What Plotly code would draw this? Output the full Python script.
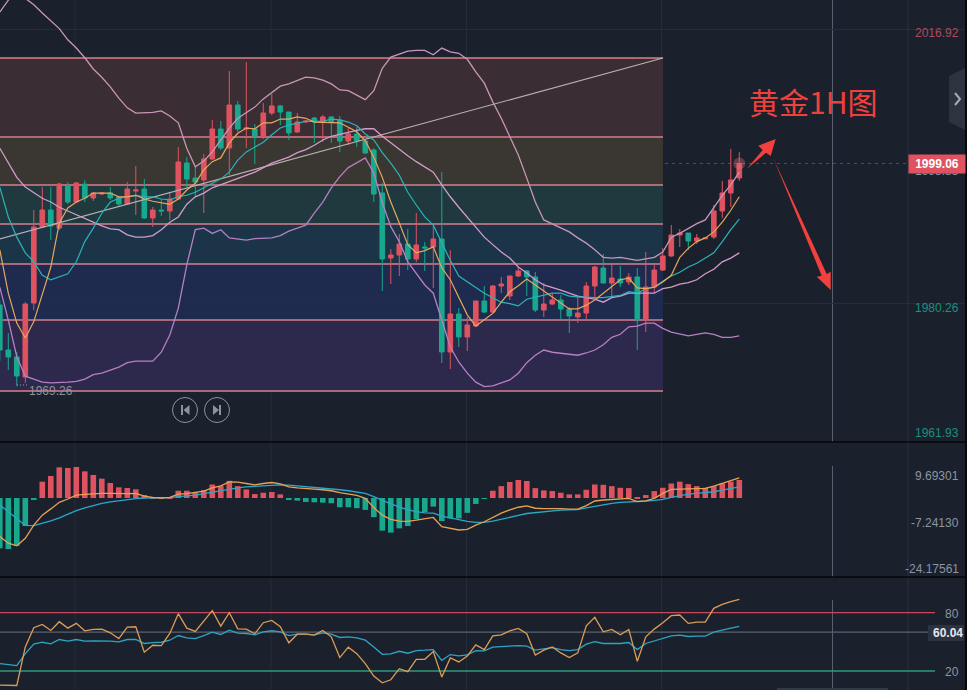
import plotly.graph_objects as go

W, H = 967, 690

# ---- candles: index 0..87, prices ----
opens = [1980.12,1974.10,1973.17,1970.49,1980.39,1990.56,1992.83,1990.42,1996.04,1993.90,
         1996.31,1994.44,1994.97,1995.11,1994.57,1993.63,1995.37,1995.64,1991.76,1992.83,
         1992.70,1994.30,1999.12,1997.11,1996.85,1999.66,2003.67,2001.13,2006.88,2003.67,
         2003.67,2002.60,2005.81,2006.75,2005.94,2003.27,2004.61,2005.14,2004.61,2005.28,
         2004.87,2002.06,2003.00,2002.06,2000.86,1995.11,1986.41,1986.81,1988.28,1986.28,
         1987.88,1987.88,1988.95,1973.83,1978.92,1975.84,1977.31,1980.66,1979.18,1982.66,
         1981.33,1984.00,1984.67,1983.87,1979.45,1980.25,1980.79,1979.59,1978.52,1979.05,
         1982.66,1985.07,1983.06,1983.60,1983.20,1983.87,1978.11,1982.53,1984.80,1986.68,
         1989.49,1989.75,1988.68,1988.98,1989.22,1992.70,1995.11,1997.11]
highs = [1980.79,1976.37,1973.83,1980.52,1992.83,1995.91,1995.91,1996.45,1996.58,1996.58,
         1996.85,1995.24,1995.24,1995.91,1994.71,1996.58,1998.72,1996.98,1993.23,1994.30,
         1995.24,2001.26,1999.92,1998.72,2000.32,2004.87,2004.74,2011.43,2007.42,2012.63,
         2004.34,2007.15,2008.35,2006.88,2005.94,2005.81,2004.87,2005.28,2005.54,2005.41,
         2005.41,2003.80,2003.94,2002.33,2001.13,1996.45,1987.61,1989.62,1990.29,1992.43,
         1988.55,1991.09,1997.92,1987.48,1979.72,1978.52,1980.66,1982.66,1982.80,1983.87,
         1984.00,1985.21,1984.80,1984.54,1983.06,1981.73,1981.46,1979.85,1981.19,1983.20,
         1985.34,1986.95,1985.47,1985.34,1984.40,1985.07,1987.21,1985.47,1987.75,1990.82,
         1990.29,1989.75,1989.62,1989.22,1993.50,1996.71,2000.99,2000.59]
lows = [1972.63,1971.42,1969.26,1969.68,1979.45,1990.42,1988.82,1990.16,1993.63,1993.77,
        1993.90,1994.04,1994.84,1994.17,1993.23,1993.50,1992.16,1991.63,1990.56,1992.03,
        1991.49,1994.17,1995.91,1994.57,1992.43,1999.52,2000.86,1997.52,2003.27,2001.13,
        1998.99,2002.33,2005.54,2004.21,2002.20,2003.14,2004.47,2001.80,2001.93,2001.80,
        2000.59,2001.53,2001.26,2000.32,1993.90,1981.99,1982.93,1984.00,1984.80,1985.87,
        1984.67,1982.40,1972.36,1971.56,1974.50,1973.97,1977.31,1979.05,1979.05,1981.73,
        1980.79,1983.87,1981.33,1979.18,1978.52,1980.12,1978.25,1976.37,1977.71,1978.25,
        1981.06,1983.06,1981.06,1982.53,1982.80,1974.10,1976.51,1981.73,1984.67,1986.54,
        1987.88,1987.48,1988.28,1988.95,1988.95,1991.76,1993.23,1996.71]
closes = [1974.10,1973.17,1970.62,1980.25,1990.56,1992.83,1990.69,1996.31,1993.90,1996.45,
          1994.44,1995.11,1995.11,1994.44,1993.63,1995.64,1995.51,1991.76,1992.83,1992.70,
          1994.30,1999.25,1996.98,1996.58,1999.66,2003.67,2001.13,2006.88,2003.67,2003.80,
          2002.73,2005.81,2006.75,2005.94,2003.14,2004.61,2004.74,2004.61,2005.28,2004.61,
          2002.06,2003.00,2002.06,2000.46,1994.97,1986.28,1986.81,1988.28,1986.28,1988.15,
          1987.75,1988.95,1973.83,1978.92,1975.84,1977.45,1980.66,1979.18,1982.66,1982.93,
          1984.00,1984.67,1983.87,1979.45,1980.25,1980.79,1979.59,1978.65,1979.05,1982.66,
          1985.21,1983.06,1983.73,1983.06,1983.87,1978.11,1982.53,1984.80,1986.68,1989.49,
          1989.75,1988.68,1989.09,1989.09,1992.70,1995.11,1996.85,1999.06]

ma5 = [1987.5,1981.7,1977.7,1975.7,1977.9,1981.4,1985.2,1991.1,1993.1,1993.9,1994.4,1995.1,1995.1,1995.1,1994.6,
       1994.6,1994.8,1994.3,1994.0,1993.8,1993.6,1994.3,1995.5,1996.4,1998.2,1999.3,1999.8,2001.8,2003.1,2003.8,
       2003.7,2004.5,2004.5,2005.0,2005.0,2005.3,2005.1,2004.6,2004.6,2004.6,2004.5,2003.9,2003.3,2002.1,1999.9,
       1997.2,1993.9,1991.1,1988.2,1987.1,1987.4,1987.9,1985.1,1983.5,1981.2,1978.8,1977.3,1978.1,1979.0,1980.5,
       1981.9,1982.7,1983.6,1982.8,1982.0,1981.3,1980.5,1979.6,1979.6,1980.1,1980.8,1981.7,1982.5,1983.5,1983.7,
       1982.4,1982.3,1982.5,1983.2,1984.1,1986.5,1987.7,1988.6,1989.1,1989.9,1991.2,1992.8,1994.6]
ma10 = [1995.9,1991.9,1989.2,1987.1,1985.9,1984.1,1983.5,1983.9,1984.3,1985.9,1988.6,1990.4,1992.4,1993.9,1994.4,
        1994.6,1994.8,1994.6,1994.6,1994.3,1994.2,1994.6,1994.8,1995.2,1995.8,1996.4,1997.0,1997.9,1999.5,2000.6,
        2001.3,2001.9,2002.9,2003.8,2004.2,2004.5,2004.7,2004.7,2004.7,2005.0,2004.9,2004.6,2004.1,2003.0,2002.2,
        2000.5,1999.1,1997.5,1995.2,1993.5,1991.9,1990.8,1988.4,1986.1,1984.0,1983.2,1982.5,1981.7,1981.1,1980.5,
        1980.3,1980.0,1980.9,1981.2,1981.4,1981.7,1981.7,1981.3,1981.2,1981.1,1981.1,1981.1,1981.2,1981.4,1981.9,
        1981.7,1982.3,1982.5,1983.3,1984.0,1984.5,1985.2,1985.7,1986.4,1987.1,1988.6,1990.2,1991.6]
boll_mid = [2001.1,1999.1,1997.2,1995.9,1995.1,1994.4,1993.9,1993.2,1992.7,1992.2,1991.6,1991.2,1990.7,1990.3,1990.2,
            1989.5,1989.2,1989.2,1989.4,1990.2,1991.2,1991.9,1993.6,1994.6,1995.1,1995.8,1996.2,1996.6,1997.1,1997.5,
            1997.9,1998.5,1999.1,1999.5,1999.9,2000.5,2000.9,2001.5,2002.2,2002.7,2003.0,2003.3,2003.5,2003.7,2003.7,
            2002.7,2001.8,2000.9,2000.1,1999.3,1998.6,1997.9,1996.2,1994.6,1993.2,1991.9,1990.6,1989.2,1988.2,1987.2,
            1986.4,1985.2,1984.4,1983.5,1982.8,1982.5,1982.1,1981.7,1981.3,1981.1,1980.9,1980.5,1981.1,1981.3,1981.7,
            1981.7,1981.7,1981.7,1982.3,1982.5,1982.9,1983.1,1983.5,1984.3,1984.9,1985.9,1986.4,1987.1]
boll_up = [2019.3,2020.9,2022.0,2021.2,2020.3,2019.2,2018.2,2017.1,2015.6,2014.5,2013.2,2011.7,2010.6,2009.3,2007.8,
           2006.5,2005.8,2005.8,2005.9,2006.1,2005.4,2004.5,2001.1,1998.6,1999.4,2000.6,2002.2,2003.8,2005.1,2005.9,
           2006.6,2007.7,2008.6,2009.4,2009.7,2010.2,2010.6,2010.5,2010.2,2009.7,2008.9,2008.8,2008.2,2007.6,2008.8,
           2011.8,2013.3,2013.7,2014.1,2014.2,2014.2,2013.6,2014.5,2014.0,2013.8,2013.0,2011.3,2009.8,2007.3,2005.1,
           2002.6,2000.2,1997.1,1993.9,1991.5,1991.0,1990.4,1989.9,1989.1,1988.4,1987.5,1986.5,1986.4,1986.5,1986.3,
           1986.1,1986.3,1986.5,1987.2,1989.2,1989.7,1990.4,1991.0,1991.5,1993.1,1994.8,1996.2,1997.9]
boll_low = [1982.5,1978.1,1973.2,1970.6,1970.2,1969.8,1969.7,1969.7,1969.8,1969.9,1970.2,1970.8,1971.0,1971.4,1971.8,
            1972.4,1972.6,1972.6,1972.6,1973.8,1976.1,1979.7,1985.5,1990.2,1990.4,1989.7,1990.2,1989.1,1989.0,1988.8,
            1989.0,1989.0,1989.1,1989.4,1990.0,1990.4,1990.8,1992.4,1993.9,1995.8,1997.3,1998.5,1999.1,1999.8,1997.8,
            1993.8,1990.6,1988.6,1985.9,1984.4,1982.8,1981.7,1978.1,1974.5,1972.5,1971.0,1969.8,1969.2,1969.3,1969.7,
            1970.1,1971.0,1972.4,1973.4,1974.1,1973.8,1973.7,1973.6,1973.4,1973.7,1974.1,1974.8,1975.8,1976.2,1977.2,
            1977.3,1977.7,1977.7,1977.0,1976.5,1976.2,1976.0,1976.2,1976.4,1976.2,1975.8,1975.8,1976.0]

fib_levels = [2013.17,2002.60,1996.18,1990.96,1985.60,1978.11,1968.61]
trend_x = [0, 78.02]
trend_y = [1988.95, 2013.17]
last_price = 1999.06
low_label = "1969.26"

# ---- MACD ----
macd_hist = [-15.25,-15.45,-14.44,-8.48,-0.4,4.95,6.67,9.29,9.09,9.39,8.08,6.97,5.86,4.55,3.23,3.03,2.63,0.9,0.1,0.1,
             0.3,2.2,2.2,1.7,2.4,4.1,3.6,5.2,3.6,2.6,1.2,1.6,1.8,1.1,-0.4,-0.8,-1.2,-1.3,-1.4,-1.6,
             -2.8,-2.8,-3.1,-3.6,-5.8,-9.9,-10.5,-9.2,-8.5,-6.4,-4.3,-2.6,-7.0,-6.2,-6.2,-4.5,-1.8,-0.1,2.2,3.6,
             4.85,5.45,5.15,3.0,2.3,2.1,1.6,1.1,1.1,2.5,4.1,4.0,3.6,3.1,3.0,0.2,0.9,2.1,3.1,4.4,
             4.95,4.2,3.6,3.1,3.6,4.4,4.95,5.45]
macd_dif = [-11.7,-13.7,-14.5,-12.2,-8.2,-5.2,-3.3,-1.3,-0.3,0.9,1.1,1.3,1.4,1.4,1.3,1.3,1.4,0.6,0.2,0.0,
            0.2,1.2,1.3,1.7,2.1,3.1,3.7,4.9,4.8,4.4,4.0,4.4,4.7,4.3,3.4,3.1,2.8,2.7,2.5,2.2,
            1.6,1.3,0.8,-0.1,-2.9,-5.2,-6.5,-7.0,-7.1,-6.7,-6.4,-5.9,-8.7,-9.2,-9.7,-9.5,-8.2,-7.2,-5.9,-4.6,
            -3.6,-2.8,-2.4,-3.1,-3.2,-3.1,-3.2,-3.4,-3.4,-2.3,-0.9,-0.6,-0.4,-0.2,-0.1,-1.1,-0.9,-0.1,1.4,2.6,
            2.7,2.8,2.8,2.9,3.6,4.4,5.3,6.1]
macd_dea = [-2.1,-4.1,-6.2,-8.3,-8.4,-7.7,-6.9,-6.0,-4.8,-3.8,-3.0,-2.2,-1.6,-1.2,-0.8,-0.5,-0.2,0.0,0.0,0.0,
            0.1,0.4,0.6,0.9,1.3,1.8,2.3,2.8,3.1,3.4,3.6,3.8,3.9,4.0,3.9,3.7,3.5,3.3,3.1,2.8,
            2.5,2.2,1.9,1.4,0.4,-0.8,-1.8,-2.7,-3.6,-4.1,-4.5,-4.6,-5.5,-6.0,-6.6,-7.1,-7.4,-7.4,-7.0,-6.5,
            -5.9,-5.3,-4.7,-4.4,-4.1,-3.9,-3.7,-3.6,-3.5,-3.0,-2.5,-2.0,-1.6,-1.3,-1.2,-1.2,-0.9,-0.7,-0.4,0.2,
            0.7,1.2,1.4,1.6,1.9,2.4,2.9,3.4]

# ---- RSI ----
rsi_fast = [5.5,5.5,5.1,44.8,64.5,67.9,61.7,70.7,64.1,69.0,61.4,62.8,63.1,59.3,53.4,65.2,65.5,39.3,46.5,46.2,
            58.6,79.0,64.1,60.7,71.4,82.1,66.2,80.0,63.4,63.1,58.3,69.7,72.1,65.5,49.0,57.9,57.9,56.9,61.7,55.2,
            33.8,44.5,37.9,27.6,14.8,7.9,11.0,22.4,19.3,32.0,32.0,40.0,13.8,33.4,29.3,35.5,46.9,42.0,56.2,57.2,
            61.4,63.8,58.3,36.5,41.4,44.8,38.6,33.8,38.6,66.5,75.2,60.3,62.8,57.2,62.8,30.0,55.2,63.1,69.7,76.9,
            77.6,69.0,70.3,70.3,84.5,88.6,91.4,93.8]
rsi_slow = [27.6,26.9,25.5,37.9,47.6,49.6,47.9,52.4,50.7,52.4,50.7,51.0,51.0,50.7,50.0,52.4,52.4,48.3,49.3,49.6,
            51.7,56.5,54.1,53.4,56.5,60.0,57.6,62.1,59.0,58.6,57.2,60.3,61.4,60.3,56.5,57.9,57.9,57.2,59.3,57.9,
            54.5,55.2,54.1,51.7,44.8,37.2,37.6,40.3,38.3,41.0,41.4,42.0,31.0,36.9,35.5,36.5,41.0,40.7,44.5,45.2,
            45.8,46.2,45.5,41.4,42.7,44.1,42.0,41.0,42.0,47.6,50.3,48.3,48.3,48.3,49.3,42.0,48.3,50.7,53.4,56.2,
            56.9,55.5,55.9,55.9,60.0,62.4,64.1,65.9]
rsi_levels = [80, 60, 20]
rsi_level_colors = ["#c6485c", "#5a626e", "#2f9a78"]

# ---- text ----
title_text = "黄金1H图"
price_labels = [("2016.92", 33, "#b04a5c"), ("1980.26", 307.5, "#1a9080"), ("1961.93", 433, "#1a9080")]
macd_labels = [("9.69301", 475.5), ("-7.24130", 523), ("-24.17561", 568.5)]
rsi_labels = [("80", 614), ("20", 672)]

idx = list(range(len(closes)))

# ---- palette ----
BG = "#1a212d"
RED = "#df5360"
TEAL = "#18a88e"
LINE = "#d87f8d"
fib_fills = ["#3a2e34", "#3a3631", "#1f393f", "#1b3448", "#1e2b4e", "#2d294d"]


def px(x):
    return x / W


def py(y):
    return 1 - y / H


def path(points, close=True):
    s = "M " + " L ".join(f"{px(a):.5f},{py(b):.5f}" for a, b in points)
    return s + (" Z" if close else "")


fig = go.Figure()

fig.add_trace(go.Candlestick(
    x=idx, open=opens, high=highs, low=lows, close=closes,
    increasing=dict(line=dict(color=RED, width=1), fillcolor=RED),
    decreasing=dict(line=dict(color=TEAL, width=1), fillcolor=TEAL),
    whiskerwidth=0, xaxis="x", yaxis="y", showlegend=False))


def line(y, color, yaxis="y", width=1.2, x=idx):
    fig.add_trace(go.Scatter(x=x, y=y, mode="lines", xaxis="x", yaxis=yaxis,
                             line=dict(color=color, width=width), showlegend=False,
                             hoverinfo="skip", cliponaxis=True))


line(trend_y, "#b8b0b2", x=trend_x)
line(boll_up, "#c996b8", width=1.3)
line(boll_low, "#b77fc4", width=1.3)
line(boll_mid, "#d29ccb", width=1.3)
line(ma10, "#2bb3b8")
line(ma5, "#e7a75e")

fig.add_trace(go.Scatter(x=[idx[-1]], y=[last_price], mode="markers", xaxis="x", yaxis="y",
                         marker=dict(size=12, color="rgba(235,110,120,0.35)"),
                         showlegend=False, hoverinfo="skip"))

fig.add_trace(go.Bar(x=idx, y=macd_hist, xaxis="x", yaxis="y2", width=0.66,
                     marker=dict(color=[RED if v >= 0 else TEAL for v in macd_hist], line=dict(width=0)),
                     showlegend=False))
line(macd_dea, "#2ba8c8", yaxis="y2", width=1.3)
line(macd_dif, "#e8a254", yaxis="y2", width=1.3)

line(rsi_slow, "#2ea4c4", yaxis="y3", width=1.3)
line(rsi_fast, "#dd9c55", yaxis="y3", width=1.3)

shapes = []


def seg(x0, y0, x1, y1, color, width=1, dash="solid", layer="below"):
    shapes.append(dict(type="line", xref="paper", yref="paper", x0=px(x0), y0=py(y0), x1=px(x1), y1=py(y1),
                       line=dict(color=color, width=width, dash=dash), layer=layer))


# vertical grid
for gx in [75, 271, 466.5, 661.5]:
    seg(gx, 0, gx, 690, "#252d39")
seg(908, 0, 908, 690, "#2a313d")

# fib bands
for k, col in enumerate(fib_fills):
    shapes.append(dict(type="rect", xref="x", yref="y", x0=0, x1=trend_x[1], y0=fib_levels[k], y1=fib_levels[k + 1],
                       fillcolor=col, line=dict(width=0), layer="below"))
for lv in fib_levels:
    shapes.append(dict(type="line", xref="x", yref="y", x0=0, x1=trend_x[1], y0=lv, y1=lv,
                       line=dict(color=LINE, width=1.4), layer="below"))

# last-price dashed line
shapes.append(dict(type="line", xref="paper", yref="y", x0=0, x1=px(908), y0=last_price, y1=last_price,
                   line=dict(color="rgba(170,155,150,0.4)", width=1, dash="3px,4px"), layer="below"))

# crosshair vertical
seg(832.5, 0, 832.5, 442, "#566070")
seg(832.5, 466, 832.5, 577, "#566070")
seg(832.5, 600, 832.5, 690, "#566070")

# RSI levels
for lv, col, xe in zip(rsi_levels, rsi_level_colors, [935, 928, 935]):
    shapes.append(dict(type="line", xref="paper", yref="y3", x0=0, x1=px(xe), y0=lv, y1=lv,
                       line=dict(color=col, width=1.3), layer="below"))

# pane separators
seg(0, 442, 967, 442, "#05070a", 1.5, layer="above")
seg(0, 577, 967, 577, "#05070a", 1.5, layer="above")

# low marker dotted line
seg(17, 385, 29, 385, "#9a9da3", 1, "1px,2px", "above")

# replay buttons
for cx in [185, 217]:
    shapes.append(dict(type="circle", xref="paper", yref="paper", x0=px(cx - 12.5), x1=px(cx + 12.5),
                       y0=py(410 + 12.5), y1=py(410 - 12.5), line=dict(color="#8a93a0", width=1),
                       fillcolor="rgba(0,0,0,0)", layer="above"))


def poly(points, fill, layer="above"):
    shapes.append(dict(type="path", xref="paper", yref="paper", path=path(points), fillcolor=fill,
                       line=dict(width=0), layer=layer))


poly([(181, 405), (183, 405), (183, 415), (181, 415)], "#8a93a0")
poly([(189.5, 405), (189.5, 415), (183.5, 410)], "#8a93a0")
poly([(219, 405), (221, 405), (221, 415), (219, 415)], "#8a93a0")
poly([(213, 405), (213, 415), (219, 410)], "#8a93a0")

# right edge strip and collapse tab
poly([(965, 0), (967, 0), (967, 690), (965, 690)], "#07090d")
poly([(949, 76), (965, 68), (965, 130), (949, 122)], "#2d3440")
shapes.append(dict(type="path", xref="paper", yref="paper", path=path([(955, 93), (960, 99), (955, 105)], close=False),
                   line=dict(color="#a3abb6", width=2), layer="above"))

# scroll thumb
poly([(777, 688), (888, 688), (888, 690), (777, 690)], "#333a47")
# 60.04 tag background
poly([(928, 625), (964, 625), (964, 641), (928, 641)], "#2b3340")

# hand-drawn arrows
ARROW = "#f4403c"
poly([(746.7, 169), (762.7, 150), (758.3, 145.7), (775.7, 139), (770.7, 156), (766, 152.7)], ARROW)
poly([(773.3, 158.3), (826.7, 274), (830.7, 271.7), (830.7, 290), (816.7, 276.7), (821.7, 275.7)], ARROW)


def note(text, x, y, color, size=12, anchor="right", bold=False, **kw):
    t = f"<b>{text}</b>" if bold else text
    return dict(text=t, xref="paper", yref="paper", x=px(x), y=py(y), xanchor=anchor, yanchor="middle",
                showarrow=False, font=dict(color=color, size=size, family="Liberation Sans"), **kw)


ann = []
ann.append(note("1998.85", 961, 171, "#8d95a1"))
for t, yy, c in price_labels:
    ann.append(note(t, 961, yy, c))
for t, yy in macd_labels:
    ann.append(note(t, 961, yy, "#8d95a1"))
for t, yy in rsi_labels:
    ann.append(note(t, 961, yy, "#8d95a1"))
ann.append(note(low_label, 27, 391, "#8f939a", anchor="left"))
ann.append(note("60.04", 965, 633, "#e6e9ee", bold=True))
ann.append(dict(text=f"<b>{last_price:.2f}</b>", xref="paper", yref="paper", x=px(937), y=py(164), xanchor="center",
                yanchor="middle", showarrow=False, width=56, height=18, bgcolor=RED, borderpad=0,
                font=dict(color="#ffffff", size=12, family="Liberation Sans")))
ann.append(dict(text=title_text, xref="paper", yref="paper", x=px(747), y=py(101), xanchor="left", yanchor="middle",
                showarrow=False, font=dict(color="#f0403b", size=30, family="Noto Sans CJK SC")))

hidden = dict(showticklabels=False, ticks="", zeroline=False, showline=False)

fig.update_layout(
    width=W, height=H,
    margin=dict(l=0, r=0, t=0, b=0),
    paper_bgcolor=BG, plot_bgcolor=BG,
    showlegend=False, hovermode=False,
    boxgap=0.22, barmode="overlay",
    xaxis=dict(domain=[0, 1], range=[0.0235, 113.79], rangeslider=dict(visible=False), showgrid=False,
               anchor="y3", **hidden),
    yaxis=dict(domain=[1 - 442 / H, 1], range=[1961.79, 2020.93], anchor="x", showgrid=True, gridcolor="#252d39",
               tickmode="array", tickvals=[2016.92, 1980.26], **hidden),
    yaxis2=dict(domain=[1 - 577 / H, 1 - 443 / H], range=[-23.94, 16.67], anchor="x", showgrid=False, **hidden),
    yaxis3=dict(domain=[0, 1 - 578 / H], range=[0.45, 115.7], anchor="x", showgrid=False, **hidden),
    shapes=shapes, annotations=ann,
)

fig.write_html("out.html", config=dict(displayModeBar=False),
               post_script="document.body.style.margin='0';document.body.style.overflow='hidden';")
